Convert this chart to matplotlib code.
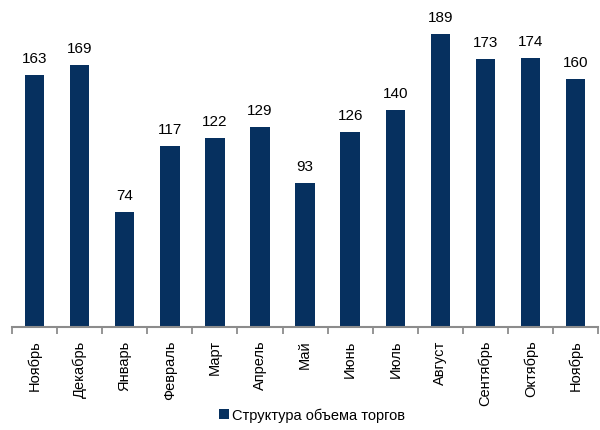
import matplotlib.pyplot as plt
import numpy as np

months = ["Ноябрь", "Декабрь", "Январь", "Февраль", "Март", "Апрель", "Май",
          "Июнь", "Июль", "Август", "Сентябрь", "Октябрь", "Ноябрь"]
values = [163, 169, 74, 117, 122, 129, 93, 126, 140, 189, 173, 174, 160]

plt.rcParams['font.family'] = ['Liberation Sans', 'DejaVu Sans']

fig = plt.figure(figsize=(6, 4.31), dpi=100)
ax = fig.add_axes([0.02, 0.239, 0.977, 0.758])

color = "#06305f"
x = np.arange(len(months))
bars = ax.bar(x, values, width=0.43, color=color, label="Структура объема торгов")

for xi, v in zip(x, values):
    ax.text(xi, v + 6.5, str(v), ha="center", va="bottom", fontsize=11)

ax.set_xlim(-0.5, len(months) - 0.5)
ax.set_ylim(0, 211)
ax.set_yticks([])
for s in ["top", "right", "left"]:
    ax.spines[s].set_visible(False)
ax.spines["bottom"].set_color("#8c8c8c")
ax.spines["bottom"].set_linewidth(1.5)

ax.set_xticks(x)
ax.set_xticklabels(months, rotation=90, fontsize=10.5)
ax.tick_params(axis="x", which="major", length=0, pad=9)
ax.set_xticks(np.arange(-0.5, len(months)), minor=True)
ax.tick_params(axis="x", which="minor", length=5, width=1.3, color="#8c8c8c")

fig.legend(loc="center", bbox_to_anchor=(0.52, 0.035), frameon=False,
           handlelength=0.7, handleheight=0.7, handletextpad=0.2, fontsize=10.5)

fig.savefig("out.png", dpi=100)
